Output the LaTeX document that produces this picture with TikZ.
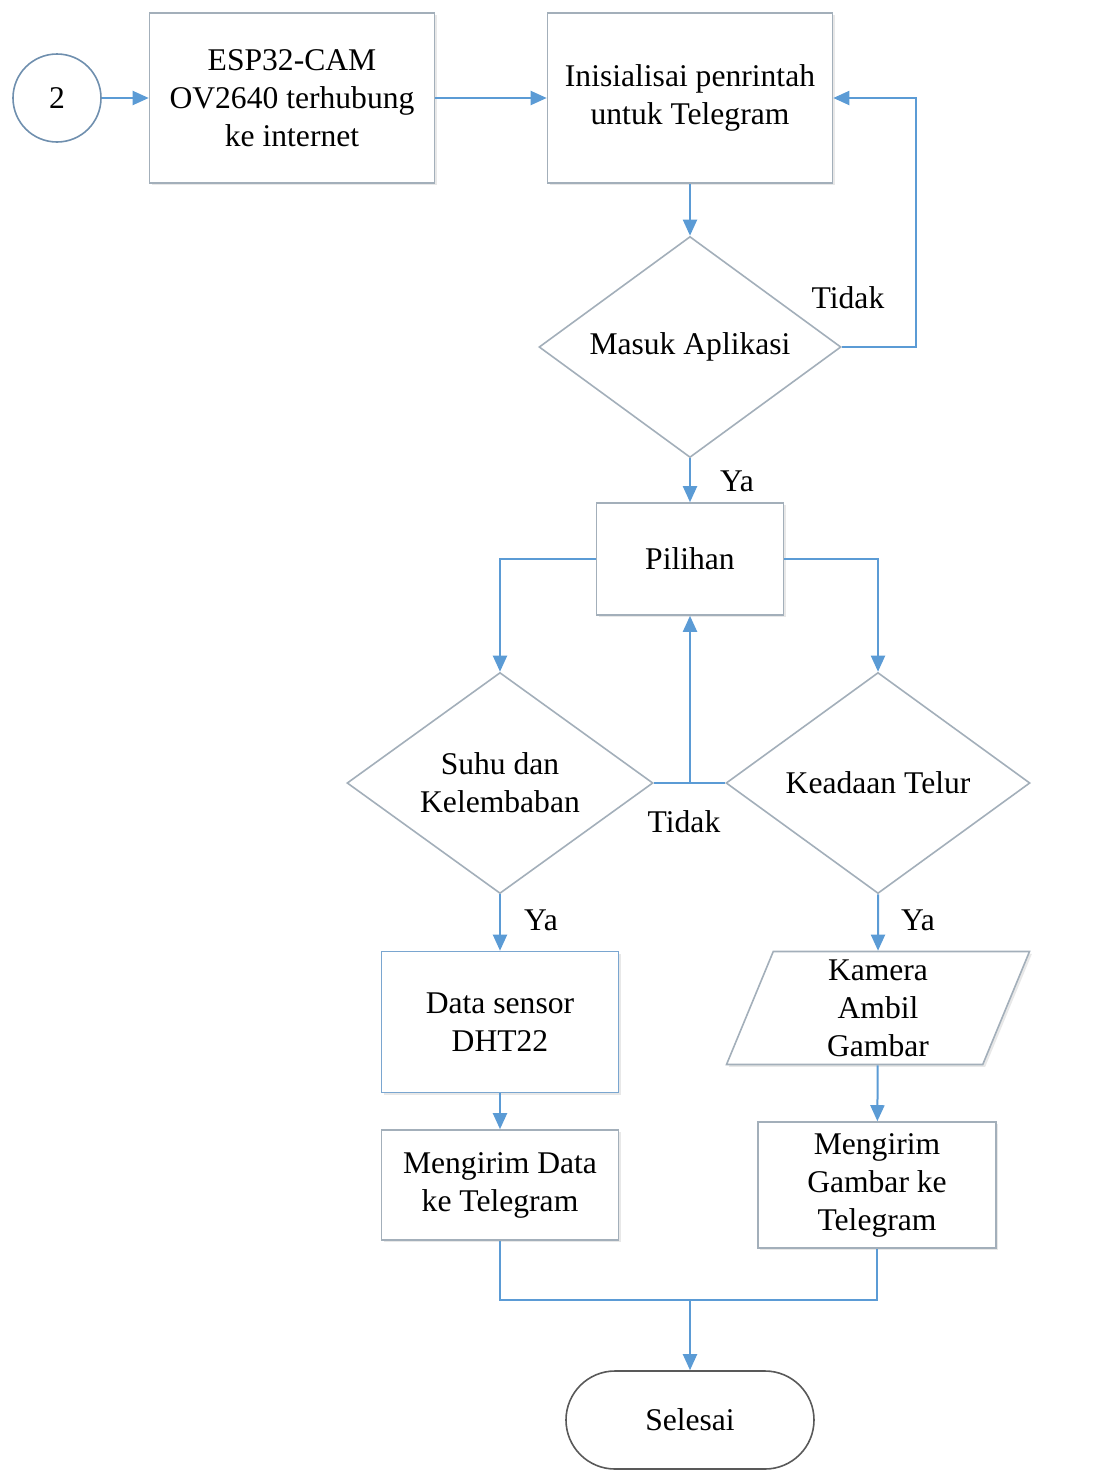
\documentclass[tikz,border=0pt]{standalone}
\usepackage{fontspec}
\setmainfont{Liberation Serif}
\usepackage{xcolor}
\usepackage{tikz}
\usetikzlibrary{arrows.meta}
\usetikzlibrary{shapes.geometric}
\usetikzlibrary{shapes.misc}
\usetikzlibrary{shadows}
\usetikzlibrary{positioning}

\definecolor{flowblue}{HTML}{5B9BD5}
\definecolor{boxgray}{HTML}{A3AFBA}
\definecolor{boxblue}{HTML}{7AA6D0}
\definecolor{circblue}{HTML}{6F8FAE}

\begin{document}
\begin{tikzpicture}[x=0.5pt,y=-0.5pt]
    \tikzstyle{every node}=[font=\fontsize{15.8}{19}\selectfont,align=center,inner sep=2pt]
    \tikzstyle{shade}=[drop shadow={shadow xshift=1.2pt,shadow yshift=-1.2pt,opacity=0.18,fill=gray}]
    \tikzstyle{box}=[draw=boxgray,line width=0.8pt,fill=white,shade]
    \tikzstyle{decision}=[diamond,shape aspect=1.37,draw=boxgray,line width=0.8pt,fill=white,inner sep=0pt,minimum height=110.5pt]
    \tikzstyle{flow}=[draw=flowblue,line width=1pt,-{Triangle[length=8pt,width=7pt]}]
    \tikzstyle{link}=[draw=flowblue,line width=1pt]

    \useasboundingbox (0,0) rectangle (1094,1472);

    \node[circle,draw=circblue,line width=0.8pt,minimum size=44pt] (start) at (57,98) {2} ;
    \node[box,minimum width=142.5pt,minimum height=85pt] (esp) at (292,98) {ESP32-CAM\\OV2640 terhubung\\ke internet} ;
    \node[box,minimum width=142.5pt,minimum height=85pt] (init) at (690,98) {Inisialisai penrintah\\untuk Telegram} ;
    \node[decision,minimum width=151pt] (masuk) at (690,347) {Masuk Aplikasi} ;
    \node[box,minimum width=93.5pt,minimum height=56pt] (pilihan) at (690,559) {Pilihan} ;
    \node[decision,minimum width=153pt] (suhu) at (500,783) {Suhu dan\\Kelembaban} ;
    \node[decision,minimum width=152pt] (telur) at (878,783) {Keadaan Telur} ;
    \node[box,draw=boxblue,minimum width=118.5pt,minimum height=70.5pt] (dht) at (500,1022) {Data sensor\\DHT22} ;
    \node[box,minimum width=118.5pt,minimum height=55pt] (kirimdata) at (500,1185) {Mengirim Data\\ke Telegram} ;
    \node[trapezium,trapezium left angle=66,trapezium right angle=114,trapezium stretches body,
          box,minimum width=151.5pt,minimum height=56.5pt] (kamera) at (878,1008) {Kamera\\Ambil\\Gambar} ;
    \node[box,minimum width=119pt,minimum height=63pt] (kirimgambar) at (877,1185) {Mengirim\\Gambar ke\\Telegram} ;
    \node[rounded rectangle,draw=black!65,line width=0.8pt,minimum width=128pt,minimum height=49pt] (selesai) at (690,1420) {Selesai} ;

    \node (tidak1) at (848,298) {Tidak} ;
    \node (ya1) at (737,481) {Ya} ;
    \node (tidak2) at (684,822) {Tidak} ;
    \node (ya2) at (541,920) {Ya} ;
    \node (ya3) at (918,920) {Ya} ;

    \coordinate (loop) at (916,347) ;
    \coordinate (merge) at (690,1300) ;

    \draw[flow] (start) -- (esp) ;
    \draw[flow] (esp) -- (init) ;
    \draw[flow] (init) -- (masuk) ;
    \draw[flow] (masuk.east) -- (loop) |- (init.east) ;
    \draw[flow] (masuk) -- (pilihan) ;
    \draw[flow] (pilihan.west) -| (suhu.north) ;
    \draw[flow] (pilihan.east) -| (telur.north) ;
    \draw[link] (suhu.east) -- (telur.west) ;
    \draw[flow] (suhu.east -| pilihan.south) -- (pilihan.south) ;
    \draw[flow] (suhu.south) -- (dht.north) ;
    \draw[flow] (dht) -- (kirimdata) ;
    \draw[flow] (telur.south) -- (kamera.north) ;
    \draw[flow] (kamera) -- (kirimgambar) ;
    \draw[link] (kirimdata.south) |- (merge) -| (kirimgambar.south) ;
    \draw[flow] (merge) -- (selesai.north) ;

\end{tikzpicture}
\end{document}
